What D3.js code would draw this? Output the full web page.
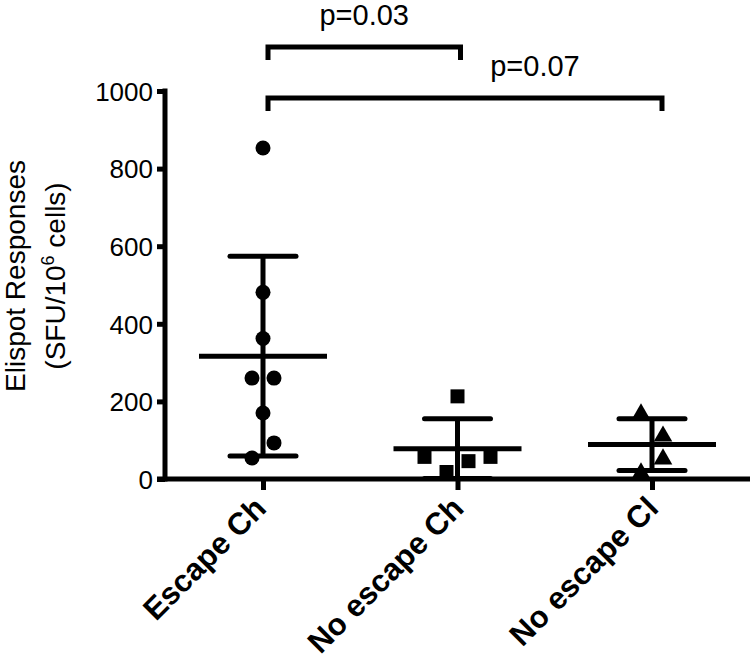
<!DOCTYPE html>
<html>
<head>
<meta charset="utf-8">
<script src="https://cdn.jsdelivr.net/npm/d3@7"></script>
<style>
  html, body { margin: 0; padding: 0; background: #fff; }
  svg { display: block; }
  text { font-family: "Liberation Sans", Arial, Helvetica, sans-serif; fill: #000; }
</style>
</head>
<body>
<svg id="chart" width="750" height="659"></svg>
<script>
// ---------- data ----------
const categories = ["Escape Ch", "No escape Ch", "No escape Cl"];
const shapes = ["circle", "square", "triangle"];
const escapeCh = [853, 481, 362, 260, 260, 170, 93, 54];
const noEscapeCh = [213, 57, 57, 46, 18];
const noEscapeCl = [170, 113, 54, 18];
// horizontal scatter slots (GraphPad-style jitter), in marker widths
const escapeChSlots = [0, 0, 0, -0.5, 0.5, 0, 0.5, -0.5];
const noEscapeChSlots = [0, -1.5, 1.5, 0.5, -0.5];
const noEscapeClSlots = [-0.5, 0.5, 0.5, -0.5];
const yTicks = [0, 200, 400, 600, 800, 1000];
const comparisons = [
  { from: "Escape Ch", to: "No escape Ch", label: "p=0.03" },
  { from: "Escape Ch", to: "No escape Cl", label: "p=0.07" }
];

const groups = [
  { name: categories[0], values: escapeCh, slots: escapeChSlots, shape: shapes[0] },
  { name: categories[1], values: noEscapeCh, slots: noEscapeChSlots, shape: shapes[1] },
  { name: categories[2], values: noEscapeCl, slots: noEscapeClSlots, shape: shapes[2] }
];

// ---------- layout ----------
const svg = d3.select("#chart");
const y = d3.scaleLinear().domain([0, 1000]).range([479, 91]);
const x = d3.scalePoint().domain(categories).range([263, 652]);
const axisX = 165;
const slotW = 22;
const SW = 5;

// y axis
const yAxis = d3.axisLeft(y).tickValues(yTicks).tickSize(8).tickPadding(4).tickFormat(d3.format("d"));
const gy = svg.append("g").attr("transform", `translate(${axisX},0)`).call(yAxis);
gy.select(".domain").remove();
gy.selectAll(".tick line").attr("stroke", "#000").attr("stroke-width", SW);
gy.selectAll(".tick text").attr("font-size", 26).attr("fill", "#000")
  .style("font-family", "'Liberation Sans', Arial, sans-serif").attr("dy", "0.36em");
svg.append("line").attr("x1", axisX).attr("x2", axisX)
  .attr("y1", y(1000) - SW / 2).attr("y2", y(0) + SW / 2)
  .attr("stroke", "#000").attr("stroke-width", SW);

// x axis
const xAxis = d3.axisBottom(x).tickSize(11).tickFormat("");
const gx = svg.append("g").attr("transform", `translate(0,${y(0)})`).call(xAxis);
gx.select(".domain").remove();
gx.selectAll(".tick line").attr("stroke", "#000").attr("stroke-width", SW);
svg.append("line").attr("x1", axisX - 8).attr("x2", 750)
  .attr("y1", y(0)).attr("y2", y(0))
  .attr("stroke", "#000").attr("stroke-width", SW);

// x labels
svg.append("g").selectAll("text").data(categories).join("text")
  .attr("transform", (d, i) => `translate(${x(d) + (i === 0 ? 5 : 8)},${510}) rotate(-45)`)
  .attr("text-anchor", "end")
  .attr("font-size", 31).attr("font-weight", "bold")
  .text(d => d);

// y title
const title = svg.append("g").attr("transform", "translate(0,276) rotate(-90)");
title.append("text").attr("x", 0).attr("y", 25).attr("text-anchor", "middle")
  .attr("font-size", 28).text("Elispot Responses");
const t2 = title.append("text").attr("x", 0).attr("y", 65).attr("text-anchor", "middle")
  .attr("font-size", 28);
t2.append("tspan").text("(SFU/10");
t2.append("tspan").attr("font-size", 18).attr("dy", -11).text("6");
t2.append("tspan").attr("dy", 11).text(" cells)");

// mean ± SD
const stats = svg.append("g");
groups.forEach(g => {
  const m = d3.mean(g.values), sd = d3.deviation(g.values);
  const cx = x(g.name);
  stats.append("line").attr("x1", cx).attr("x2", cx).attr("y1", y(m + sd)).attr("y2", y(Math.max(m - sd, 0)))
    .attr("stroke", "#000").attr("stroke-width", SW);
  [m + sd, Math.max(m - sd, 0)].forEach(v => {
    stats.append("line").attr("x1", cx - 33).attr("x2", cx + 33).attr("y1", y(v)).attr("y2", y(v))
      .attr("stroke", "#000").attr("stroke-width", SW).attr("stroke-linecap", "round");
  });
  stats.append("line").attr("x1", cx - 64).attr("x2", cx + 64).attr("y1", y(m)).attr("y2", y(m))
    .attr("stroke", "#000").attr("stroke-width", SW);
});

// points
const symMap = { circle: d3.symbolCircle, square: d3.symbolSquare, triangle: d3.symbolTriangle };
const sizeMap = { circle: Math.PI * 7.5 * 7.5, square: 14 * 14, triangle: 150 };
const pts = svg.append("g");
groups.forEach(g => {
  const sym = d3.symbol().type(symMap[g.shape]).size(sizeMap[g.shape]);
  pts.selectAll(null).data(g.values.map((v, i) => ({ v, s: g.slots[i] }))).join("path")
    .attr("d", sym)
    .attr("transform", d => `translate(${x(g.name) + d.s * slotW},${y(d.v) + (g.shape === "triangle" ? 1 : 0)})`)
    .attr("fill", "#000");
});

// significance brackets
const brY = [47, 98];
const br = svg.append("g");
comparisons.forEach((c, i) => {
  const x1 = x(c.from) + 5, x2 = x(c.to) + (i === 0 ? 3 : 10);
  const yy = brY[i];
  br.append("path")
    .attr("d", `M${x1},${yy + 13}V${yy}H${x2}V${yy + 13}`)
    .attr("fill", "none").attr("stroke", "#000").attr("stroke-width", SW)
    .attr("stroke-linejoin", "miter");
  br.append("text").attr("x", (x1 + x2) / 2 + (i === 0 ? 0 : 70)).attr("y", yy - 22)
    .attr("text-anchor", "middle").attr("font-size", 29).text(c.label);
});
</script>
</body>
</html>
